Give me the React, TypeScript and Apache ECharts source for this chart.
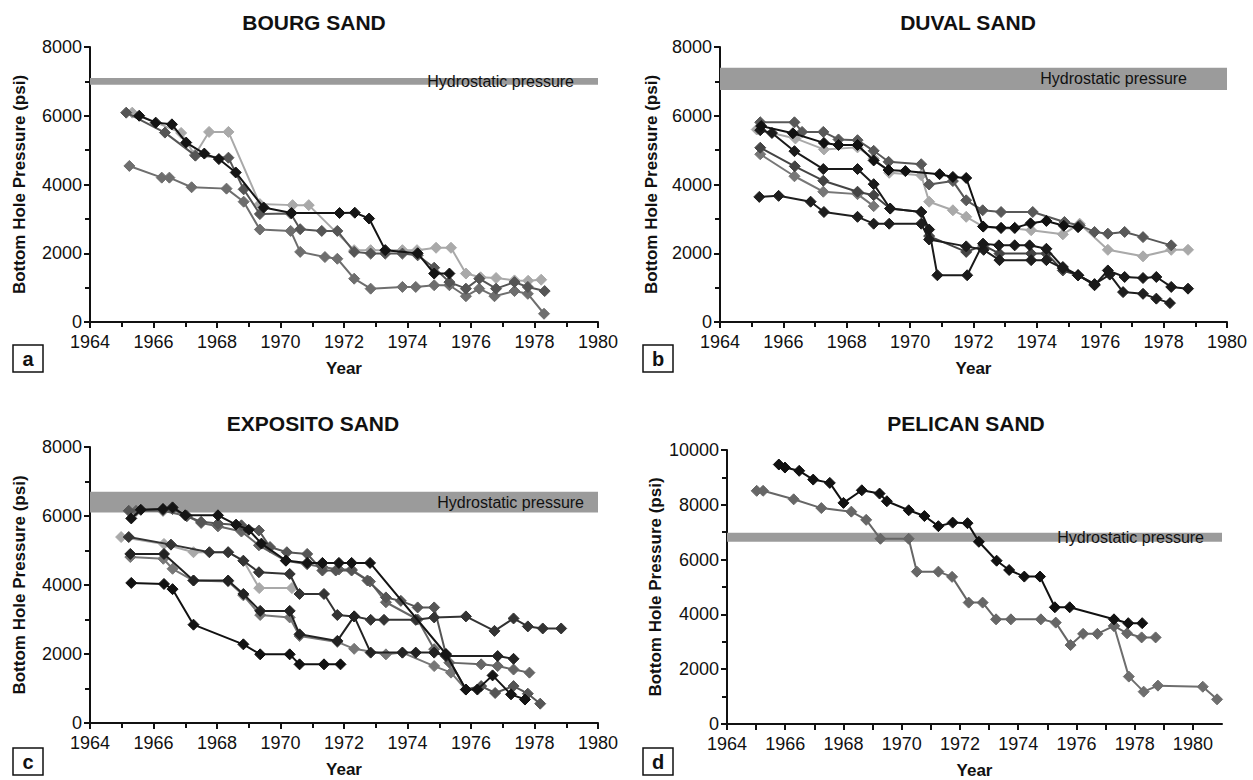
import React, { useEffect, useRef } from 'react';
import * as echarts from 'echarts';

type Pt = [number, number];

const FONT = "'Liberation Sans', Arial, Helvetica, sans-serif";

// ---------- Panel a: BOURG SAND ----------
const bourgBlack: Pt[] = [[1965.55, 6000], [1966.07, 5800], [1966.58, 5750], [1967.03, 5220], [1967.6, 4900], [1968.06, 4740], [1968.59, 4350], [1969.47, 3330], [1970.35, 3170], [1971.86, 3170], [1972.34, 3180], [1972.79, 3010], [1973.3, 2090], [1974.32, 2000], [1974.84, 1410], [1975.32, 1410]];
const bourgLight: Pt[] = [[1965.33, 6090], [1966.87, 5500], [1967.3, 4860], [1967.75, 5530], [1968.36, 5530], [1969.35, 3430], [1970.38, 3400], [1970.89, 3400], [1972.32, 2090], [1972.84, 2090], [1973.3, 2090], [1973.84, 2090], [1974.3, 2090], [1974.9, 2160], [1975.37, 2160], [1975.84, 1410], [1976.3, 1300], [1976.79, 1280], [1977.37, 1210], [1977.8, 1200], [1978.21, 1230]];
const bourgDark: Pt[] = [[1965.14, 6090], [1966.36, 5510], [1967.32, 4840], [1968.36, 4780], [1968.84, 3860], [1969.35, 3140], [1970.32, 3155], [1970.62, 2700], [1971.3, 2650], [1971.79, 2650], [1972.32, 2040], [1972.84, 1990], [1973.3, 1990], [1973.84, 1990], [1974.32, 1940], [1974.84, 1580], [1975.32, 1160], [1975.84, 970], [1976.26, 1260], [1976.79, 970], [1977.37, 1160], [1977.79, 1020], [1978.32, 900]];
const bourgGray: Pt[] = [[1965.24, 4540], [1966.26, 4200], [1966.5, 4200], [1967.2, 3920], [1968.3, 3880], [1968.84, 3500], [1969.35, 2690], [1970.32, 2650], [1970.62, 2040], [1971.4, 1890], [1971.79, 1840], [1972.32, 1260], [1972.84, 970], [1973.84, 1020], [1974.26, 1020], [1974.84, 1070], [1975.32, 1070], [1975.84, 750], [1976.26, 970], [1976.74, 750], [1977.37, 900], [1977.79, 820], [1978.3, 240]];
const bourgHydro = [6900, 7100];

// ---------- Panel b: DUVAL SAND ----------
const duvalDarkTop: Pt[] = [[1965.27, 5810], [1966.35, 5810], [1966.59, 5530], [1967.26, 5530], [1967.74, 5310], [1968.34, 5290], [1968.85, 4980], [1969.32, 4660], [1970.35, 4590], [1970.6, 4000], [1971.35, 4100], [1971.77, 3540], [1972.29, 3250], [1972.87, 3200], [1973.87, 3200], [1974.87, 2910], [1975.35, 2810], [1975.82, 2620], [1976.24, 2570], [1976.77, 2620], [1977.35, 2470], [1978.24, 2230]];
const duvalLight: Pt[] = [[1965.16, 5600], [1966.38, 5340], [1967.28, 5020], [1968.34, 5080], [1968.85, 4760], [1969.34, 4340], [1970.35, 4270], [1970.6, 3500], [1971.35, 3250], [1971.77, 3060], [1972.32, 2770], [1972.87, 2720], [1973.3, 2720], [1973.82, 2670], [1974.82, 2550], [1975.35, 2860], [1976.24, 2100], [1977.35, 1910], [1978.24, 2100], [1978.77, 2100]];
const duvalBlackTop: Pt[] = [[1965.3, 5700], [1966.3, 5490], [1967.28, 5210], [1967.74, 5150], [1968.34, 5150], [1968.85, 4700], [1969.32, 4420], [1969.85, 4390], [1970.93, 4300], [1971.35, 4220], [1971.77, 4190], [1972.3, 2780], [1972.87, 2740], [1973.3, 2740], [1973.8, 2870], [1974.3, 2940], [1974.85, 2800], [1975.3, 2760]];
const duvalBlack: Pt[] = [[1965.27, 5580], [1965.64, 5500], [1966.35, 4970], [1967.26, 4450], [1968.34, 4450], [1968.85, 4010], [1969.37, 3300], [1970.35, 3200], [1970.6, 2690], [1970.86, 1360], [1971.8, 1360], [1972.3, 2280], [1972.8, 2230], [1973.3, 2230], [1973.77, 2230], [1974.3, 2130], [1974.82, 1600], [1975.3, 1360], [1975.82, 1070], [1976.24, 1500], [1976.77, 1310], [1977.35, 1280], [1977.77, 1310], [1978.24, 1020], [1978.77, 970]];
const duvalDark: Pt[] = [[1965.27, 5070], [1966.36, 4530], [1967.26, 4110], [1968.34, 3790], [1968.85, 3690], [1969.37, 3300], [1970.35, 3200], [1970.6, 2500], [1971.77, 2040], [1972.32, 2230], [1972.82, 1990], [1973.82, 1990], [1974.3, 1990], [1974.82, 1500], [1975.3, 1360], [1975.82, 1100]];
const duvalGray: Pt[] = [[1965.27, 4880], [1966.35, 4240], [1967.26, 3790], [1968.34, 3720], [1968.85, 3370]];
const duvalBlackLow: Pt[] = [[1965.24, 3640], [1965.85, 3670], [1966.86, 3500], [1967.28, 3200], [1968.34, 3060], [1968.85, 2860], [1969.34, 2860], [1970.35, 2860], [1970.6, 2400], [1971.77, 2200], [1972.32, 2100], [1972.82, 1800], [1973.82, 1800], [1974.3, 1800], [1974.82, 1560], [1975.3, 1360], [1975.82, 1100], [1976.3, 1380], [1976.72, 870], [1977.35, 820], [1977.77, 680], [1978.2, 550]];
const duvalHydro = [6750, 7400];

// ---------- Panel c: EXPOSITO SAND ----------
const expBlackTop: Pt[] = [[1965.3, 5930], [1965.6, 6180], [1966.3, 6200], [1966.6, 6250], [1967.0, 6020], [1968.03, 6020], [1968.6, 5750], [1969.0, 5600], [1969.4, 5200], [1970.17, 4710], [1970.84, 4640], [1971.32, 4640], [1971.84, 4640], [1972.24, 4640], [1972.82, 4640], [1975.21, 2000], [1975.84, 970], [1976.2, 970], [1976.68, 1380], [1977.26, 830], [1977.7, 680]];
const expDarkTop: Pt[] = [[1965.22, 6150], [1966.3, 6200], [1966.6, 6200], [1967.05, 6000], [1967.5, 5830], [1968.03, 5780], [1968.77, 5730], [1969.32, 5580], [1969.67, 5100], [1970.2, 4950], [1970.84, 4900], [1971.32, 4420], [1971.74, 4420], [1972.24, 4420], [1972.74, 4130], [1973.32, 3640], [1973.79, 3540], [1974.32, 3350], [1974.84, 3350], [1975.21, 1990], [1975.84, 970], [1976.32, 1070], [1976.76, 870], [1977.34, 1070], [1977.79, 850], [1978.18, 560]];
const expGrayTop: Pt[] = [[1965.45, 6150], [1966.3, 6150], [1967.05, 6000], [1967.5, 5800], [1968.03, 5700], [1968.77, 5550], [1969.32, 5150], [1970.17, 4700], [1970.84, 4600], [1971.32, 4520], [1971.84, 4450], [1972.24, 4450], [1972.82, 4100], [1973.32, 3500], [1974.32, 3000], [1974.84, 2140], [1975.32, 1750], [1976.32, 1700], [1976.84, 1650], [1977.34, 1550], [1977.84, 1460]];
const expLight: Pt[] = [[1964.98, 5390], [1966.33, 5190], [1967.26, 4950], [1968.35, 4950], [1968.83, 4710], [1969.33, 3910], [1970.36, 3910]];
const expDark: Pt[] = [[1965.22, 5390], [1966.55, 5170], [1967.76, 4950], [1968.35, 4950], [1968.83, 4700], [1969.32, 4370], [1970.29, 4320], [1970.6, 3740], [1971.37, 3740], [1971.79, 3130], [1972.32, 3090], [1972.84, 2990], [1973.26, 2990], [1974.26, 2990], [1974.84, 3060], [1975.84, 3090], [1976.74, 2670], [1977.34, 3030], [1977.79, 2800], [1978.26, 2740], [1978.84, 2740]];
const expBlack: Pt[] = [[1965.27, 4900], [1966.33, 4900], [1967.26, 4130], [1968.35, 4130], [1968.83, 3740], [1969.36, 3250], [1970.29, 3250], [1970.6, 2570], [1971.79, 2380], [1972.32, 3090], [1972.84, 2040], [1973.84, 2040], [1974.26, 2040], [1974.84, 2040], [1975.21, 1940], [1976.84, 1940], [1977.34, 1860]];
const expGray: Pt[] = [[1965.27, 4810], [1966.31, 4760], [1966.6, 4470], [1967.26, 4130], [1968.35, 4100], [1968.83, 3700], [1969.36, 3130], [1970.29, 3060], [1970.6, 2520], [1971.79, 2350], [1972.32, 2150], [1973.32, 1990], [1973.84, 2040], [1974.84, 1650], [1975.37, 1460], [1975.84, 970]];
const expBlackLow: Pt[] = [[1965.3, 4060], [1966.33, 4030], [1966.6, 3880], [1967.26, 2850], [1968.83, 2280], [1969.36, 1990], [1970.29, 1990], [1970.6, 1700], [1971.37, 1700], [1971.89, 1700]];
const expHydro = [6100, 6700];

// ---------- Panel d: PELICAN SAND ----------
const pelBlack: Pt[] = [[1965.78, 9470], [1965.99, 9360], [1966.48, 9240], [1966.96, 8920], [1967.53, 8800], [1968.0, 8070], [1968.63, 8530], [1969.24, 8410], [1969.49, 8130], [1970.24, 7800], [1970.78, 7590], [1971.26, 7220], [1971.75, 7350], [1972.26, 7330], [1972.65, 6650], [1973.26, 5960], [1973.69, 5620], [1974.21, 5380], [1974.75, 5380], [1975.26, 4260], [1975.77, 4260], [1977.29, 3820], [1977.78, 3680], [1978.26, 3680]];
const pelGray: Pt[] = [[1965.02, 8510], [1965.24, 8510], [1966.29, 8200], [1967.24, 7880], [1968.27, 7750], [1968.78, 7450], [1969.27, 6760], [1970.24, 6760], [1970.52, 5560], [1971.26, 5560], [1971.73, 5370], [1972.3, 4430], [1972.78, 4430], [1973.24, 3820], [1973.75, 3820], [1974.78, 3820], [1975.29, 3700], [1975.8, 2880], [1976.23, 3290], [1976.72, 3290], [1977.29, 3580], [1977.74, 3310], [1978.24, 3160], [1978.72, 3160]];
const pelGray2: Pt[] = [[1977.29, 3580], [1977.8, 1730], [1978.31, 1180], [1978.8, 1400], [1980.34, 1360], [1980.83, 900]];
const pelHydro = [6650, 6980];

const yearTicksLabelled = [1964, 1966, 1968, 1970, 1972, 1974, 1976, 1978, 1980];

interface SeriesDef { data: Pt[]; color: string }

const panels: {
  title: string; letter: string; series: SeriesDef[]; hydro: number[]; hydroDist: number;
  grid: { left: number; top: number; width: number; height: number };
  xMax: number; yMax: number; titleX: number; titleY: number; yNameX: number; box: [number, number];
}[] = [
  {
    title: 'BOURG SAND', letter: 'a', hydro: bourgHydro, hydroDist: 24,
    series: [
      { data: bourgGray, color: '#6e6e6e' },
      { data: bourgLight, color: '#a9a9a9' },
      { data: bourgDark, color: '#555555' },
      { data: bourgBlack, color: '#141414' },
    ],
    grid: { left: 90, top: 47, width: 508, height: 275 }, xMax: 1980, yMax: 8000,
    titleX: 314, titleY: 22, yNameX: 19, box: [13, 345],
  },
  {
    title: 'DUVAL SAND', letter: 'b', hydro: duvalHydro, hydroDist: 40,
    series: [
      { data: duvalGray, color: '#777777' },
      { data: duvalLight, color: '#a9a9a9' },
      { data: duvalDarkTop, color: '#585858' },
      { data: duvalDark, color: '#444444' },
      { data: duvalBlackLow, color: '#1e1e1e' },
      { data: duvalBlack, color: '#1a1a1a' },
      { data: duvalBlackTop, color: '#111111' },
    ],
    grid: { left: 720, top: 47, width: 507, height: 275 }, xMax: 1980, yMax: 8000,
    titleX: 968, titleY: 22, yNameX: 651, box: [643, 345],
  },
  {
    title: 'EXPOSITO SAND', letter: 'c', hydro: expHydro, hydroDist: 14,
    series: [
      { data: expLight, color: '#a9a9a9' },
      { data: expGray, color: '#777777' },
      { data: expGrayTop, color: '#666666' },
      { data: expDarkTop, color: '#555555' },
      { data: expDark, color: '#333333' },
      { data: expBlack, color: '#222222' },
      { data: expBlackLow, color: '#111111' },
      { data: expBlackTop, color: '#141414' },
    ],
    grid: { left: 90, top: 447, width: 508, height: 276 }, xMax: 1980, yMax: 8000,
    titleX: 313, titleY: 423, yNameX: 19, box: [13, 748],
  },
  {
    title: 'PELICAN SAND', letter: 'd', hydro: pelHydro, hydroDist: 18,
    series: [
      { data: pelGray2, color: '#6e6e6e' },
      { data: pelGray, color: '#666666' },
      { data: pelBlack, color: '#111111' },
    ],
    grid: { left: 727, top: 450, width: 495, height: 274 }, xMax: 1981, yMax: 10000,
    titleX: 966, titleY: 423, yNameX: 655, box: [643, 748],
  },
];

function buildOption(): echarts.EChartsOption {
  const grid: any[] = [];
  const xAxis: any[] = [];
  const yAxis: any[] = [];
  const series: any[] = [];
  const graphic: any[] = [];

  panels.forEach((p, i) => {
    grid.push({ ...p.grid, containLabel: false });
    const isD = p.xMax === 1981;
    xAxis.push({
      type: 'value', gridIndex: i, min: 1964, max: p.xMax, interval: isD ? 1 : 2,
      axisLine: { show: true, onZero: false, lineStyle: { color: '#111', width: 2 } },
      axisTick: { show: true, length: 6, lineStyle: { color: '#111', width: 2 } },
      minorTick: { show: !isD, splitNumber: 2, length: 5, lineStyle: { color: '#111', width: 2 } },
      splitLine: { show: false },
      axisLabel: {
        fontSize: 18, color: '#111', fontFamily: FONT, margin: 11, showMaxLabel: !isD,
        formatter: (v: number) => (yearTicksLabelled.indexOf(Math.round(v)) >= 0 ? String(Math.round(v)) : ''),
      },
    });
    yAxis.push({
      type: 'value', gridIndex: i, min: 0, max: p.yMax, interval: 2000,
      axisLine: { show: true, lineStyle: { color: '#111', width: 2 } },
      axisTick: { show: true, length: 6, lineStyle: { color: '#111', width: 2 } },
      minorTick: { show: true, splitNumber: 2, length: 5, lineStyle: { color: '#111', width: 2 } },
      splitLine: { show: false },
      axisLabel: {
        fontSize: 18, color: '#111', fontFamily: FONT, margin: 8,
        formatter: (v: number) => String(Math.round(v)),
      },
    });

    p.series.forEach((s, k) => {
      const item: any = {
        type: 'line', xAxisIndex: i, yAxisIndex: i, data: s.data,
        symbol: 'diamond', symbolSize: 11, showSymbol: true,
        lineStyle: { color: s.color, width: 2 },
        itemStyle: { color: s.color, borderColor: s.color },
        z: 3 + k, silent: true,
      };
      if (k === 0) {
        item.markArea = {
          silent: true,
          itemStyle: { color: '#9b9b9b' },
          label: {
            show: true, position: 'insideRight', distance: p.hydroDist, color: '#111',
            fontSize: 16, fontFamily: FONT,
          },
          data: [[{ yAxis: p.hydro[0], name: 'Hydrostatic pressure' }, { yAxis: p.hydro[1] }]],
        };
        item.z = 2;
      }
      series.push(item);
    });

    graphic.push({
      type: 'text', x: p.titleX, y: p.titleY,
      style: { text: p.title, fontSize: 21, fontWeight: 'bold', fontFamily: FONT, fill: '#111', align: 'center', verticalAlign: 'middle' },
    });
    graphic.push({
      type: 'text', x: p.yNameX, y: p.grid.top + p.grid.height / 2, rotation: Math.PI / 2,
      style: { text: 'Bottom Hole Pressure (psi)', fontSize: 17, fontWeight: 'bold', fontFamily: FONT, fill: '#111', align: 'center', verticalAlign: 'middle' },
    });
    graphic.push({
      type: 'text', x: p.grid.left + p.grid.width / 2, y: p.grid.top + p.grid.height + 46,
      style: { text: 'Year', fontSize: 17, fontWeight: 'bold', fontFamily: FONT, fill: '#111', align: 'center', verticalAlign: 'middle' },
    });
    graphic.push({
      type: 'rect', shape: { x: p.box[0], y: p.box[1], width: 30, height: 27 },
      style: { fill: '#fff', stroke: '#111', lineWidth: 1.5 },
    });
    graphic.push({
      type: 'text', x: p.box[0] + 15, y: p.box[1] + 14,
      style: { text: p.letter, fontSize: 20, fontWeight: 'bold', fontFamily: FONT, fill: '#111', align: 'center', verticalAlign: 'middle' },
    });
  });

  return {
    animation: false,
    backgroundColor: '#ffffff',
    textStyle: { fontFamily: FONT },
    grid, xAxis, yAxis, series, graphic,
  } as any;
}

export default function App() {
  const ref = useRef<HTMLDivElement>(null);
  useEffect(() => {
    if (!ref.current) return;
    const chart = echarts.init(ref.current, undefined, { renderer: 'svg' });
    chart.setOption(buildOption());
    return () => chart.dispose();
  }, []);
  return (
    <div
      ref={ref}
      style={{ position: 'fixed', left: 0, top: 0, width: 1253, height: 780, background: '#fff' }}
    />
  );
}
